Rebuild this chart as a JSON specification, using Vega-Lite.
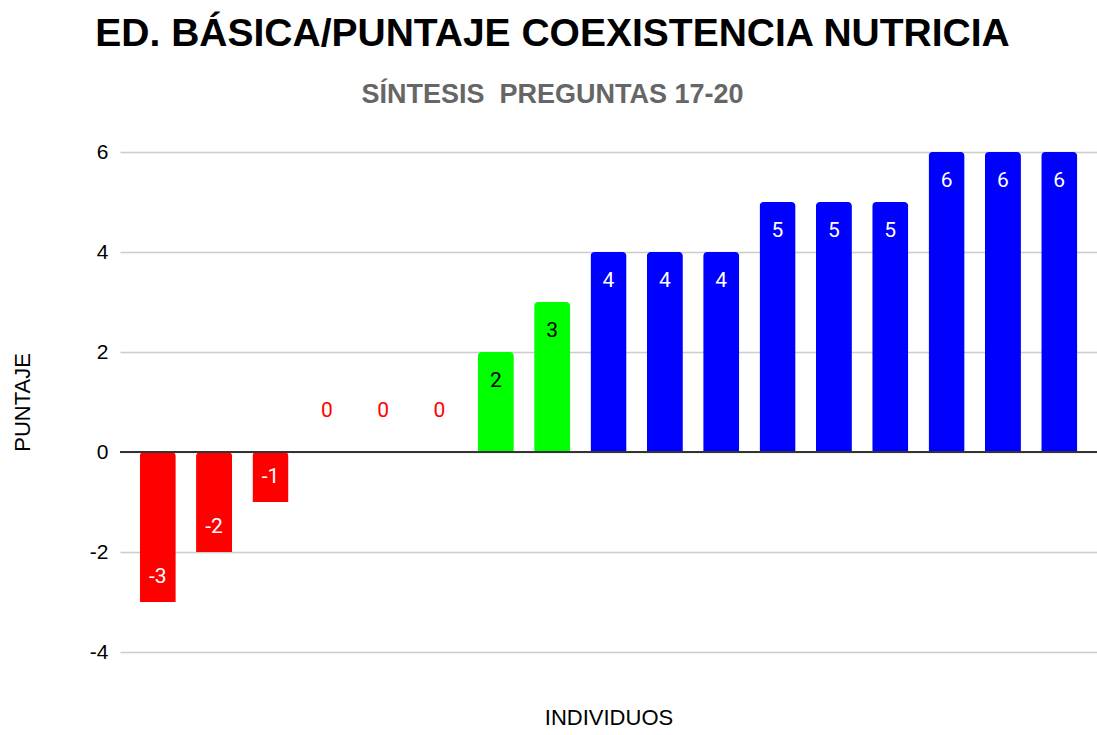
{
  "$schema": "https://vega.github.io/schema/vega-lite/v6.json",
  "autosize": "none",
  "padding": {"left": 120, "top": 152, "right": 0, "bottom": 83},
  "width": 977,
  "height": 500,
  "background": "white",
  "title": {
    "text": "ED. BÁSICA/PUNTAJE COEXISTENCIA NUTRICIA",
    "subtitle": "SÍNTESIS\u00a0 PREGUNTAS 17-20",
    "anchor": "middle",
    "dx": -56,
    "offset": 33,
    "font": "Liberation Sans Narrow, Liberation Sans",
    "fontSize": 39,
    "fontWeight": "bold",
    "color": "#000000",
    "subtitleFont": "Liberation Sans Narrow, Liberation Sans",
    "subtitleFontSize": 27,
    "subtitleFontWeight": "bold",
    "subtitleColor": "#666666",
    "subtitlePadding": 28
  },
  "config": {"view": {"stroke": null}},
  "data": {
    "values": [
      {"individuo": 1, "valor": -3, "grupo": "negativo"},
      {"individuo": 2, "valor": -2, "grupo": "negativo"},
      {"individuo": 3, "valor": -1, "grupo": "negativo"},
      {"individuo": 4, "valor": 0, "grupo": "cero"},
      {"individuo": 5, "valor": 0, "grupo": "cero"},
      {"individuo": 6, "valor": 0, "grupo": "cero"},
      {"individuo": 7, "valor": 2, "grupo": "medio"},
      {"individuo": 8, "valor": 3, "grupo": "medio"},
      {"individuo": 9, "valor": 4, "grupo": "alto"},
      {"individuo": 10, "valor": 4, "grupo": "alto"},
      {"individuo": 11, "valor": 4, "grupo": "alto"},
      {"individuo": 12, "valor": 5, "grupo": "alto"},
      {"individuo": 13, "valor": 5, "grupo": "alto"},
      {"individuo": 14, "valor": 5, "grupo": "alto"},
      {"individuo": 15, "valor": 6, "grupo": "alto"},
      {"individuo": 16, "valor": 6, "grupo": "alto"},
      {"individuo": 17, "valor": 6, "grupo": "alto"}
    ]
  },
  "encoding": {
    "x": {
      "field": "individuo",
      "type": "ordinal",
      "scale": {"paddingInner": 0.36, "paddingOuter": 0.35},
      "axis": {
        "title": "INDIVIDUOS",
        "labels": false,
        "ticks": false,
        "domain": false,
        "titleFont": "Liberation Sans",
        "titleFontSize": 22,
        "titleFontWeight": "normal",
        "titleColor": "#000000",
        "titlePadding": 55
      }
    },
    "y": {
      "field": "valor",
      "type": "quantitative",
      "scale": {"domain": [-4, 6], "nice": false, "zero": false},
      "axis": {
        "title": "PUNTAJE",
        "values": [-4, -2, 0, 2, 4, 6],
        "labelExpr": "'' + datum.value",
        "ticks": false,
        "domain": false,
        "grid": true,
        "gridColor": "#cccccc",
        "gridWidth": 1.5,
        "labelFont": "Liberation Sans",
        "labelFontSize": 21,
        "labelColor": "#000000",
        "labelPadding": 12,
        "titleFont": "Liberation Sans",
        "titleFontSize": 22,
        "titleFontWeight": "normal",
        "titleColor": "#000000",
        "titlePadding": 55
      }
    }
  },
  "layer": [
    {
      "mark": {"type": "bar", "cornerRadiusEnd": 4},
      "encoding": {
        "color": {
          "field": "grupo",
          "type": "nominal",
          "scale": {"domain": ["negativo", "cero", "medio", "alto"], "range": ["#ff0000", "#ff0000", "#00ff00", "#0000ff"]},
          "legend": null
        }
      }
    },
    {
      "mark": {"type": "rule", "color": "#333333", "strokeWidth": 2},
      "encoding": {"y": {"datum": 0}, "x": {"value": 0}, "x2": {"value": 977}}
    },
    {
      "transform": [{"filter": "datum.valor > 0"}],
      "mark": {"type": "text", "font": "Roboto", "fontSize": 21, "baseline": "middle", "dy": 29},
      "encoding": {
        "text": {"field": "valor", "type": "nominal"},
        "color": {
          "field": "grupo",
          "type": "nominal",
          "scale": {"domain": ["negativo", "cero", "medio", "alto"], "range": ["#ffffff", "#ff0000", "#000000", "#ffffff"]},
          "legend": null
        }
      }
    },
    {
      "transform": [{"filter": "datum.valor < 0"}],
      "mark": {"type": "text", "font": "Roboto", "fontSize": 21, "baseline": "middle", "dy": -25, "color": "#ffffff"},
      "encoding": {
        "text": {"field": "valor", "type": "nominal"}
      }
    },
    {
      "transform": [{"filter": "datum.valor == 0"}],
      "mark": {"type": "text", "font": "Roboto", "fontSize": 21, "baseline": "middle", "dy": -41, "color": "#ff0000"},
      "encoding": {
        "text": {"field": "valor", "type": "nominal"}
      }
    }
  ],
  "resolve": {"scale": {"color": "independent"}}
}
